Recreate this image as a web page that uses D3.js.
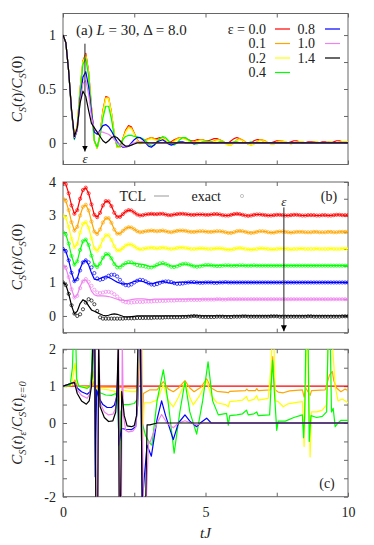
<!DOCTYPE html>
<html>
<head>
<meta charset="utf-8">
<script src="https://cdn.jsdelivr.net/npm/d3@7"></script>
<style>
  body { margin: 0; background: #fff; }
  svg text { fill: #222; }
</style>
</head>
<body>
<svg id="chart" width="374" height="545" font-family="Liberation Serif, serif"></svg>
<script>

// epsilon values, one series each
var eps = ["0.0", "0.1", "0.2", "0.4", "0.8", "1.0", "1.4"];
var colors = ["#ff0000", "#ffa500", "#ffff00", "#00ff00", "#0000ff", "#ee82ee", "#000000"];
var offsets = [3, 2.5, 2, 1.5, 1, 0.5, 0]; // shift used in panel (b)

// time grid t = 0, 0.1, ..., 10
var T = d3.range(101).map(function(i) { return i / 10; });

// TCL curves, C_S(t)/C_S(0)
var tcl00 = [
  1.00, 0.93, 0.66, 0.30, 0.05, 0.16, 0.50, 0.76, 0.83, 0.66, 0.33,
  0.02, -0.05, 0.08, 0.30, 0.43, 0.42, 0.28, 0.08, -0.04, -0.04,
  0.04, 0.12, 0.16, 0.15, 0.09, 0.03, 0.00, 0.01, 0.03, 0.04,
  0.05, 0.04, 0.04, 0.05, 0.05, 0.03, 0.01, 0.01, 0.03, 0.04,
  0.05, 0.05, 0.04, 0.03, 0.02, 0.02, 0.03, 0.03, 0.03, 0.02,
  0.02, 0.03, 0.04, 0.04, 0.03, 0.01, 0.00, 0.00, 0.02, 0.04,
  0.05, 0.04, 0.02, 0.00, -0.01, 0.00, 0.02, 0.03, 0.03, 0.02,
  0.01, 0.00, 0.00, 0.01, 0.02, 0.02, 0.01, 0.00, 0.00, 0.01,
  0.02, 0.02, 0.01, 0.00, 0.00, 0.01, 0.01, 0.01, 0.00, 0.00,
  0.01, 0.01, 0.00, 0.00, 0.01, 0.02, 0.02, 0.01, 0.01, 0.01
];
var tcl01 = [
  1.00, 0.93, 0.66, 0.30, 0.05, 0.16, 0.50, 0.76, 0.82, 0.65, 0.32,
  0.02, -0.05, 0.08, 0.29, 0.42, 0.42, 0.28, 0.08, -0.04, -0.04,
  0.04, 0.11, 0.15, 0.14, 0.09, 0.03, 0.00, 0.01, 0.03, 0.04,
  0.05, 0.04, 0.03, 0.04, 0.05, 0.03, 0.01, 0.00, 0.02, 0.04,
  0.05, 0.05, 0.04, 0.02, 0.01, 0.01, 0.02, 0.03, 0.03, 0.02,
  0.01, 0.01, 0.02, 0.03, 0.03, 0.02, 0.00, -0.02, -0.02, 0.00,
  0.03, 0.04, 0.03, 0.01, -0.01, -0.02, -0.01, 0.01, 0.03, 0.03,
  0.02, 0.00, -0.01, -0.01, 0.01, 0.02, 0.02, 0.01, 0.00, -0.01,
  0.00, 0.01, 0.01, 0.01, 0.00, 0.00, 0.00, 0.01, 0.01, 0.00,
  0.00, 0.00, 0.01, 0.01, 0.00, 0.00, 0.01, 0.01, 0.01, 0.01
];
var tcl02 = [
  1.00, 0.93, 0.66, 0.30, 0.05, 0.15, 0.49, 0.75, 0.80, 0.64, 0.31,
  0.02, -0.05, 0.07, 0.28, 0.41, 0.41, 0.27, 0.08, -0.04, -0.04,
  0.03, 0.10, 0.14, 0.13, 0.08, 0.02, -0.01, 0.00, 0.02, 0.03,
  0.04, 0.03, 0.02, 0.03, 0.04, 0.03, 0.01, 0.00, 0.01, 0.03,
  0.04, 0.04, 0.03, 0.02, 0.00, 0.00, 0.01, 0.02, 0.02, 0.01,
  0.00, 0.00, 0.01, 0.02, 0.02, 0.01, -0.01, -0.02, -0.02, 0.00,
  0.02, 0.03, 0.02, 0.00, -0.01, -0.02, -0.01, 0.00, 0.02, 0.02,
  0.01, 0.00, -0.01, -0.01, 0.00, 0.01, 0.01, 0.01, 0.00, -0.01,
  0.00, 0.00, 0.01, 0.01, 0.00, 0.00, 0.00, 0.00, 0.01, 0.00,
  0.00, 0.00, 0.00, 0.01, 0.00, 0.00, 0.00, 0.01, 0.01, 0.01
];
var tcl04 = [
  1.00, 0.93, 0.66, 0.29, 0.03, 0.13, 0.47, 0.73, 0.78, 0.62, 0.30,
  0.02, -0.04, 0.06, 0.23, 0.34, 0.34, 0.22, 0.06, -0.03, -0.03,
  0.03, 0.06, 0.07, 0.07, 0.06, 0.06, 0.05, 0.04, 0.02, -0.01,
  -0.03, -0.02, 0.01, 0.04, 0.06, 0.05, 0.02, -0.01, -0.02, 0.00,
  0.03, 0.05, 0.05, 0.03, 0.01, -0.01, -0.01, 0.00, 0.01, 0.01,
  0.01, 0.01, 0.00, 0.00, 0.01, 0.01, 0.00, 0.00, 0.00, 0.01,
  0.01, 0.00, 0.00, 0.00, 0.00, 0.01, 0.00, 0.00, 0.00, 0.00,
  0.00, 0.00, 0.00, 0.00, 0.00, 0.00, 0.00, 0.00, 0.00, 0.00,
  0.00, 0.00, 0.00, 0.00, 0.00, 0.00, 0.00, 0.00, 0.00, 0.00,
  0.00, 0.00, 0.00, 0.00, 0.00, 0.00, 0.00, 0.00, 0.00, 0.00
];
var tcl08 = [
  1.00, 0.93, 0.66, 0.29, 0.04, 0.12, 0.41, 0.61, 0.66, 0.52, 0.28,
  0.10, 0.08, 0.12, 0.16, 0.17, 0.15, 0.11, 0.06, 0.01, -0.02,
  -0.04, -0.04, -0.03, 0.00, 0.03, 0.05, 0.05, 0.03, 0.00, -0.03,
  -0.04, -0.02, 0.01, 0.02, 0.03, 0.01, -0.01, -0.02, -0.01, 0.00,
  0.01, 0.01, 0.00, 0.00, 0.00, -0.01, 0.00, 0.00, 0.00, 0.00,
  0.00, 0.00, 0.00, 0.00, 0.00, 0.00, 0.00, 0.00, 0.00, 0.00,
  0.00, 0.00, 0.00, 0.00, 0.00, 0.00, 0.00, 0.00, 0.00, 0.00,
  0.00, 0.00, 0.00, 0.00, 0.00, 0.00, 0.00, 0.00, 0.00, 0.00,
  0.00, 0.00, 0.00, 0.00, 0.00, 0.00, 0.00, 0.00, 0.00, 0.00,
  0.00, 0.00, 0.00, 0.00, 0.00, 0.00, 0.00, 0.00, 0.00, 0.00
];
var tcl10 = [
  1.00, 0.93, 0.66, 0.30, 0.05, 0.12, 0.38, 0.55, 0.58, 0.45, 0.24,
  0.13, 0.10, 0.10, 0.10, 0.09, 0.08, 0.06, 0.03, 0.00, -0.02,
  -0.03, -0.04, -0.03, -0.01, 0.00, 0.01, 0.01, 0.01, 0.00, -0.01,
  -0.01, 0.00, 0.00, 0.00, 0.00, 0.00, 0.00, 0.00, 0.00, 0.00,
  0.00, 0.00, 0.00, 0.00, 0.00, 0.00, 0.00, 0.00, 0.00, 0.00,
  0.00, 0.00, 0.00, 0.00, 0.00, 0.00, 0.00, 0.00, 0.00, 0.00,
  0.00, 0.00, 0.00, 0.00, 0.00, 0.00, 0.00, 0.00, 0.00, 0.00,
  0.00, 0.00, 0.00, 0.00, 0.00, 0.00, 0.00, 0.00, 0.00, 0.00,
  0.00, 0.00, 0.00, 0.00, 0.00, 0.00, 0.00, 0.00, 0.00, 0.00,
  0.00, 0.00, 0.00, 0.00, 0.00, 0.00, 0.00, 0.00, 0.00, 0.00
];
var tcl14 = [
  1.00, 0.93, 0.66, 0.31, 0.06, 0.14, 0.37, 0.48, 0.43, 0.30, 0.18,
  0.14, 0.10, 0.06, 0.02, 0.00, 0.02, 0.05, 0.06, 0.05, 0.02,
  -0.01, -0.03, -0.03, -0.02, -0.01, 0.00, 0.00, 0.00, 0.00, 0.00,
  0.00, 0.00, 0.00, 0.00, 0.00, 0.00, 0.00, 0.00, 0.00, 0.00,
  0.00, 0.00, 0.00, 0.00, 0.00, 0.00, 0.00, 0.00, 0.00, 0.00,
  0.00, 0.00, 0.00, 0.00, 0.00, 0.00, 0.00, 0.00, 0.00, 0.00,
  0.00, 0.00, 0.00, 0.00, 0.00, 0.00, 0.00, 0.00, 0.00, 0.00,
  0.00, 0.00, 0.00, 0.00, 0.00, 0.00, 0.00, 0.00, 0.00, 0.00,
  0.00, 0.00, 0.00, 0.00, 0.00, 0.00, 0.00, 0.00, 0.00, 0.00,
  0.00, 0.00, 0.00, 0.00, 0.00, 0.00, 0.00, 0.00, 0.00, 0.00
];

// exact curves (circles in panel b); for eps <= 0.2 they sit on the TCL curves
var exact04 = [
  1.00, 0.93, 0.66, 0.29, 0.03, 0.13, 0.47, 0.73, 0.78, 0.62, 0.30,
  0.02, -0.04, 0.06, 0.24, 0.35, 0.34, 0.22, 0.05, -0.05, -0.05,
  0.02, 0.08, 0.11, 0.10, 0.06, 0.02, 0.00, -0.01, -0.03, -0.05,
  -0.05, -0.02, 0.03, 0.07, 0.08, 0.05, 0.01, -0.03, -0.04, -0.02,
  0.02, 0.05, 0.06, 0.04, 0.01, -0.02, -0.03, -0.02, 0.00, 0.02,
  0.02, 0.01, 0.00, -0.01, -0.01, 0.00, 0.01, 0.01, 0.00, 0.00,
  0.00, 0.01, 0.01, 0.00, 0.00, 0.00, 0.01, 0.00, 0.00, 0.00,
  0.00, 0.00, 0.00, 0.00, 0.00, 0.00, 0.00, 0.00, 0.00, 0.00,
  0.00, 0.00, 0.00, 0.00, 0.00, 0.00, 0.00, 0.00, 0.00, 0.00,
  0.00, 0.00, 0.00, 0.00, 0.00, 0.00, 0.00, 0.00, 0.00, 0.00
];
var exact08 = [
  1.00, 0.93, 0.66, 0.29, 0.04, 0.10, 0.36, 0.60, 0.66, 0.60, 0.45,
  0.28, 0.12, 0.08, 0.10, 0.15, 0.20, 0.23, 0.23, 0.18, 0.08,
  -0.03, -0.08, -0.09, -0.06, 0.00, 0.05, 0.08, 0.07, 0.03, -0.02,
  -0.06, -0.07, -0.05, -0.01, 0.02, 0.03, 0.03, 0.01, -0.02, -0.04,
  -0.04, -0.03, -0.01, 0.00, 0.01, 0.01, 0.00, -0.01, -0.01, 0.00,
  0.00, 0.00, -0.01, -0.01, 0.00, 0.00, 0.01, 0.00, 0.00, 0.00,
  0.00, 0.00, 0.00, 0.00, 0.00, 0.00, 0.00, 0.00, 0.00, 0.00,
  0.00, 0.00, 0.00, 0.00, 0.00, 0.00, 0.00, 0.00, 0.00, 0.00,
  0.00, 0.00, 0.00, 0.00, 0.00, 0.00, 0.00, 0.00, 0.00, 0.00,
  0.00, 0.00, 0.00, 0.00, 0.00, 0.00, 0.00, 0.00, 0.00, 0.00
];
var exact10 = [
  1.00, 0.93, 0.66, 0.30, 0.05, 0.10, 0.33, 0.53, 0.60, 0.52, 0.40,
  0.28, 0.20, 0.18, 0.20, 0.22, 0.22, 0.20, 0.15, 0.08, 0.00,
  -0.06, -0.09, -0.10, -0.10, -0.09, -0.08, -0.08, -0.08, -0.07, -0.07,
  -0.07, -0.06, -0.06, -0.05, -0.05, -0.05, -0.04, -0.04, -0.04, -0.03,
  -0.03, -0.03, -0.03, -0.02, -0.02, -0.02, -0.02, -0.02, -0.01, -0.01,
  -0.01, -0.01, -0.01, 0.00, 0.00, -0.01, -0.01, 0.00, 0.00, 0.00,
  0.00, 0.00, 0.00, 0.00, 0.00, 0.00, 0.00, 0.00, 0.00, 0.00,
  0.00, 0.00, 0.00, 0.00, 0.00, 0.00, 0.00, 0.00, 0.00, 0.00,
  0.00, 0.00, 0.00, 0.00, 0.00, 0.00, 0.00, 0.00, 0.00, 0.00,
  0.00, 0.00, 0.00, 0.00, 0.00, 0.00, 0.00, 0.00, 0.00, 0.00
];
var exact14 = [
  1.00, 0.92, 0.66, 0.32, 0.07, 0.00, 0.05, 0.20, 0.40, 0.50, 0.46,
  0.35, 0.15, -0.04, -0.08, -0.08, -0.08, -0.08, -0.08, -0.08, -0.08,
  -0.08, -0.07, -0.07, -0.07, -0.07, -0.06, -0.06, -0.06, -0.06, -0.06,
  -0.06, -0.05, -0.05, -0.05, -0.05, -0.04, -0.04, -0.04, -0.04, -0.04,
  -0.04, -0.03, -0.03, -0.02, -0.01, 0.00, -0.01, -0.02, -0.03, -0.03,
  -0.03, -0.03, -0.03, -0.02, -0.02, -0.02, -0.03, -0.03, -0.03, -0.02,
  -0.02, -0.02, -0.01, -0.01, -0.02, -0.02, -0.02, -0.02, -0.02, -0.02,
  -0.02, -0.02, -0.01, -0.01, -0.01, -0.02, -0.02, -0.02, -0.02, -0.02,
  -0.02, -0.02, -0.02, -0.02, -0.02, -0.01, -0.01, -0.02, -0.02, -0.02,
  -0.02, -0.02, -0.02, -0.02, -0.02, -0.02, -0.02, -0.01, -0.01, -0.01
];

// ratio C_S(t)_eps / C_S(t)_eps=0, as [t, value]
var ratio00 = [[0, 1], [10, 1]];
var ratio01 = [[0, 1], [0.3, 1.02], [0.42, 1.17], [0.5, 1.0], [0.9, 0.98], [1.02, 1.0], [1.07, 1.12],
  [1.12, 0.95], [1.2, 0.98], [1.85, 0.97], [1.93, 0.92], [2.0, 0.97], [2.3, 0.95], [2.55, 0.95],
  [2.66, 1.05], [2.71, 2.2], [2.76, 2.2], [2.77, -1.4], [2.82, 0.8], [3.05, 0.9], [3.3, 0.9],
  [3.52, 1.12], [3.7, 0.92], [3.87, 0.85], [4.05, 0.95], [4.28, 1.15], [4.45, 0.95], [4.6, 0.85],
  [4.85, 0.98], [5.04, 1.2], [5.2, 0.95], [5.4, 0.86], [5.75, 0.83], [5.8, 0.82], [5.85, 0.86],
  [6.4, 0.88], [6.45, 0.92], [6.5, 0.88], [6.75, 0.88], [6.8, 0.93], [6.85, 0.88], [7.28, 0.9],
  [7.36, 1.8], [7.44, 0.9], [7.55, 0.84], [7.73, 0.82], [7.95, 0.87], [8.4, 0.9], [8.46, 0.7],
  [8.52, 0.95], [8.67, 0.75], [8.72, 0.88], [9.2, 0.9], [9.35, 1.3], [9.45, 1.4], [9.5, 1.15],
  [9.6, 0.95], [9.75, 0.85], [9.9, 0.92], [10, 0.88]];
var ratio02 = [[0, 1], [0.3, 1.02], [0.36, 1.3], [0.42, 1.62], [0.48, 1.15], [0.55, 1.0], [0.9, 0.96],
  [1.0, 1.05], [1.07, 1.4], [1.12, 0.9], [1.2, 0.95], [1.3, 0.93], [1.6, 0.9], [1.85, 0.85],
  [1.95, 0.5], [2.05, 0.9], [2.2, 0.88], [2.4, 0.85], [2.55, 0.85], [2.65, 1.0], [2.7, 2.2],
  [2.76, 2.2], [2.78, -0.6], [2.85, 0.55], [3.05, 0.55], [3.3, 0.62], [3.52, 1.03], [3.7, 0.6],
  [3.87, 0.44], [4.05, 0.7], [4.28, 1.1], [4.45, 0.7], [4.57, 0.49], [4.8, 0.75], [5.04, 1.15],
  [5.2, 0.75], [5.4, 0.55], [5.7, 0.5], [5.8, 0.44], [5.85, 0.58], [6.1, 0.6], [6.3, 0.62],
  [6.44, 0.72], [6.5, 0.6], [6.7, 0.64], [6.8, 0.74], [6.85, 0.62], [7.2, 0.67], [7.3, 1.5],
  [7.33, 2.2], [7.4, 2.2], [7.45, 0.6], [7.55, 0.58], [7.73, 0.44], [7.9, 0.52], [8.2, 0.56],
  [8.4, 0.58], [8.46, -0.64], [8.5, 0.5], [8.55, 2.2], [8.6, 2.2], [8.67, -0.92], [8.72, 0.3],
  [8.9, 0.3], [9.1, 0.35], [9.25, 0.5], [9.3, 2.2], [9.45, 2.2], [9.55, 1.0], [9.65, 0.6],
  [9.8, 0.65], [10, 0.55]];
var ratio04 = [[0, 1], [0.25, 1.02], [0.33, 1.5], [0.36, 2.2], [0.45, 2.2], [0.48, 1.2], [0.55, 1.0],
  [0.85, 0.94], [0.95, 1.0], [1.0, 1.4], [1.03, 2.2], [1.07, 2.2], [1.12, 0.3], [1.2, 0.85],
  [1.3, 0.82], [1.5, 0.76], [1.7, 0.75], [1.85, 0.8], [1.92, 0.6], [1.98, -1.0], [2.03, 0.3],
  [2.1, 0.5], [2.3, 0.5], [2.5, 0.53], [2.62, 0.65], [2.68, 2.2], [2.73, 2.2], [2.78, 0.0],
  [2.9, -0.35], [3.05, -0.55], [3.12, -0.6], [3.3, 0.6], [3.52, 1.44], [3.7, 0.5], [3.9, -0.82],
  [4.1, 0.3], [4.28, 1.12], [4.45, 0.3], [4.69, -0.3], [4.9, 0.6], [5.09, 1.66], [5.25, 0.6],
  [5.45, 0.22], [5.74, 0.26], [5.8, -0.06], [5.85, 0.2], [6.1, 0.22], [6.3, 0.25], [6.44, 0.35],
  [6.5, 0.22], [6.7, 0.25], [6.8, 0.3], [6.85, 0.2], [7.25, 0.22], [7.35, 1.7], [7.42, 0.8],
  [7.5, -0.2], [7.55, 0.05], [7.8, 0.05], [8.1, 0.15], [8.4, 0.22], [8.44, -0.4], [8.48, 0.2],
  [8.52, 2.2], [8.6, 2.2], [8.64, -0.5], [8.7, 0.2], [8.9, 0.15], [9.1, 0.18], [9.25, 0.3],
  [9.3, 2.2], [9.38, 2.2], [9.42, 0.3], [9.48, 0.4], [9.55, -0.1], [9.65, 0.0], [9.75, 0.07],
  [10, 0.07]];
var ratio08 = [[0, 1], [0.3, 1.08], [0.4, 1.1], [0.5, 0.95], [0.65, 0.85], [0.85, 0.78], [0.95, 0.85],
  [1.02, 1.3], [1.06, 2.2], [1.1, 2.2], [1.13, -1.46], [1.18, 0.9], [1.25, 0.7], [1.4, 0.5],
  [1.55, 0.42], [1.7, 0.42], [1.8, 0.48], [1.88, 0.7], [1.92, 1.2], [1.96, -0.6], [2.05, -0.15],
  [2.2, -0.17], [2.4, -0.18], [2.55, -0.1], [2.62, 0.5], [2.67, 2.2], [2.72, 2.2], [2.78, -2.2],
  [2.85, -1.5], [2.95, -0.6], [3.1, -0.9], [3.3, 0.1], [3.46, 0.6], [3.6, 0.2], [3.87, -0.45],
  [4.05, 0.0], [4.28, 0.22], [4.45, 0.05], [4.69, -0.1], [4.85, 0.02], [5.04, 0.13], [5.2, 0.0],
  [10, 0.0]];
var ratio10 = [[0, 1], [0.3, 1.08], [0.4, 1.12], [0.5, 0.9], [0.65, 0.75], [0.85, 0.67], [0.95, 0.8],
  [1.02, 1.4], [1.06, 2.2], [1.12, 2.2], [1.16, -2.2], [1.22, -2.2], [1.26, 2.2], [1.3, 0.55],
  [1.45, 0.3], [1.6, 0.22], [1.75, 0.24], [1.85, 0.4], [1.9, 1.0], [1.95, 2.2], [1.98, -2.2],
  [2.05, -2.2], [2.08, 2.2], [2.12, 0.2], [2.2, -0.2], [2.3, -0.24], [2.45, -0.22], [2.55, -0.12],
  [2.62, 0.6], [2.66, 2.2], [2.75, 2.2], [2.82, -2.2], [2.92, -2.2], [3.0, -0.5], [3.05, -0.53],
  [3.3, 0.0], [3.46, 0.23], [3.65, 0.0], [3.87, -0.13], [4.05, 0.0], [4.28, 0.06], [4.5, 0.0],
  [4.69, -0.05], [4.9, 0.0], [10, 0.0]];
var ratio14 = [[0, 1], [0.3, 1.08], [0.4, 1.1], [0.5, 0.8], [0.65, 0.6], [0.82, 0.51], [0.92, 0.6],
  [1.0, 1.0], [1.05, 2.2], [1.12, 2.2], [1.15, -2.2], [1.22, -2.2], [1.25, 2.2], [1.3, 0.45],
  [1.45, 0.15], [1.6, 0.04], [1.75, 0.06], [1.85, 0.3], [1.9, 1.0], [1.94, 2.2], [1.97, -2.2],
  [2.02, -2.2], [2.06, 0.85], [2.15, 0.2], [2.25, -0.08], [2.4, -0.1], [2.5, -0.07], [2.58, 0.2],
  [2.63, 2.2], [2.72, 2.2], [2.78, -2.2], [2.9, -2.2], [2.95, -0.05], [3.05, -0.05], [3.3, 0.0],
  [10, 0.0]];

var tcl = [tcl00, tcl01, tcl02, tcl04, tcl08, tcl10, tcl14];
var exact = [tcl00, tcl01, tcl02, exact04, exact08, exact10, exact14];
var ratio = [ratio00, ratio01, ratio02, ratio04, ratio08, ratio10, ratio14];

var xTicks = [0, 2.5, 5, 7.5, 10];
var FONT = "Liberation Serif, serif";

var svg = d3.select("#chart");
var x = d3.scaleLinear().domain([0, 10]).range([63, 348]);
var yA = d3.scaleLinear().domain([-0.2, 1.2]).range([164.5, 13.5]);
var yB = d3.scaleLinear().domain([-0.5, 4]).range([332.7, 182]);
var yC = d3.scaleLinear().domain([-2, 2]).range([496.7, 349.3]);

function panel(id, y, yTicks, yFmt, xFmt) {
  var top = y.range()[1], bottom = y.range()[0];
  svg.append("clipPath").attr("id", id)
    .append("rect").attr("x", 63).attr("y", top).attr("width", 285).attr("height", bottom - top);

  var ax = svg.append("g").attr("class", "axes");
  ax.append("g").attr("transform", "translate(63,0)")
    .call(d3.axisLeft(y).tickValues(yTicks).tickSize(-4).tickPadding(7).tickFormat(yFmt));
  ax.append("g").attr("transform", "translate(348,0)")
    .call(d3.axisRight(y).tickValues(yTicks).tickSize(-4).tickFormat(""));
  ax.append("g").attr("transform", "translate(0," + bottom + ")")
    .call(d3.axisBottom(x).tickValues(xTicks).tickSize(-4).tickPadding(10).tickFormat(xFmt));
  ax.append("g").attr("transform", "translate(0," + top + ")")
    .call(d3.axisTop(x).tickValues(xTicks).tickSize(-4).tickFormat(""));
  ax.selectAll("g").attr("font-family", FONT).attr("font-size", 14);
  ax.selectAll(".domain").remove();
  ax.selectAll(".tick line").attr("stroke", "#666");
  ax.selectAll(".tick text").attr("fill", "#222");

  svg.append("rect").attr("x", 63).attr("y", top).attr("width", 285).attr("height", bottom - top)
    .attr("fill", "none").attr("stroke", "#666").attr("stroke-width", 1);

  return svg.append("g").attr("clip-path", "url(#" + id + ")");
}

function noLabel() { return ""; }

// ---- panel (a)
var gA = panel("clipA", yA, [0, 0.25, 0.5, 0.75, 1],
  function(v) { return v === 0 ? "0" : v === 0.5 ? "0.5" : v === 1 ? "1" : ""; }, noLabel);

var lineA = d3.line().x(function(d, i) { return x(T[i]); }).y(function(d) { return yA(d); });
tcl.forEach(function(s, k) {
  gA.append("path").datum(s).attr("d", lineA)
    .attr("fill", "none").attr("stroke", colors[k]).attr("stroke-width", 1.2)
    .attr("stroke-linejoin", "round");
});

// legend (a)
var legA = svg.append("g").attr("font-family", FONT).attr("font-size", 14);
eps.forEach(function(e, k) {
  var col = k < 4 ? 0 : 1, row = k < 4 ? k : k - 4;
  var tx = col === 0 ? 266 : 315, lx = col === 0 ? 275 : 325;
  var yy = 29 + row * 14.5;
  legA.append("text").attr("x", tx).attr("y", yy).attr("dy", "0.35em")
    .attr("text-anchor", "end").text(k === 0 ? "\u03b5 = " + e : e);
  legA.append("line").attr("x1", lx).attr("x2", lx + 15).attr("y1", yy).attr("y2", yy)
    .attr("stroke", colors[k]).attr("stroke-width", 1.2);
});

var titleA = svg.append("text").attr("x", 76).attr("y", 30).attr("dy", "0.35em")
  .attr("font-family", FONT).attr("font-size", 15);
titleA.append("tspan").text("(a) ");
titleA.append("tspan").attr("font-style", "italic").text("L");
titleA.append("tspan").text(" = 30, \u0394 = 8.0");

// arrow helper
svg.append("defs").append("marker").attr("id", "head")
  .attr("viewBox", "0 0 10 10").attr("refX", 10).attr("refY", 5)
  .attr("markerWidth", 6).attr("markerHeight", 9).attr("markerUnits", "userSpaceOnUse")
  .attr("orient", "auto")
  .append("path").attr("d", "M0,0 L10,5 L0,10 Z").attr("fill", "#000");

function arrow(t, y, from, to) {
  svg.append("line").attr("x1", x(t)).attr("x2", x(t)).attr("y1", y(from)).attr("y2", y(to))
    .attr("stroke", "#222").attr("stroke-width", 1).attr("marker-end", "url(#head)");
}
function epsLabel(t, y, v) {
  svg.append("text").attr("x", x(t)).attr("y", y(v)).attr("dy", "0.35em")
    .attr("text-anchor", "middle").attr("font-family", FONT).attr("font-size", 13)
    .attr("font-style", "italic").text("\u03b5");
}
arrow(0.77, yA, 0.92, -0.08);
epsLabel(0.77, yA, -0.14);

// ---- panel (b)
var gB = panel("clipB", yB, d3.range(-0.5, 4.01, 0.5),
  function(v) { return Number.isInteger(v) ? String(v) : ""; }, noLabel);

tcl.forEach(function(s, k) {
  var lineB = d3.line().x(function(d, i) { return x(T[i]); })
    .y(function(d) { return yB(d + offsets[k]); });
  gB.append("path").datum(s).attr("d", lineB)
    .attr("fill", "none").attr("stroke", colors[k]).attr("stroke-width", 1.2);
});
exact.forEach(function(s, k) {
  gB.append("g").selectAll("circle").data(s).enter().append("circle")
    .attr("cx", function(d, i) { return x(T[i]); })
    .attr("cy", function(d) { return yB(d + offsets[k]); })
    .attr("r", 1.6).attr("fill", "none").attr("stroke", colors[k]).attr("stroke-width", 0.7);
});

var legB = svg.append("g").attr("font-family", FONT).attr("font-size", 14);
legB.append("text").attr("x", 146).attr("y", 196).attr("dy", "0.35em").attr("text-anchor", "end").text("TCL");
legB.append("line").attr("x1", 154).attr("x2", 169).attr("y1", 196).attr("y2", 196)
  .attr("stroke", "#aaa").attr("stroke-width", 1.2);
legB.append("text").attr("x", 221).attr("y", 196).attr("dy", "0.35em").attr("text-anchor", "end").text("exact");
legB.append("circle").attr("cx", 242).attr("cy", 196).attr("r", 1.6)
  .attr("fill", "none").attr("stroke", "#aaa").attr("stroke-width", 0.7);
legB.append("text").attr("x", 329).attr("y", 196).attr("dy", "0.35em").attr("text-anchor", "middle").text("(b)");

arrow(7.75, yB, 3.24, -0.46);
epsLabel(7.75, yB, 3.43);

// ---- panel (c)
var gC = panel("clipC", yC, d3.range(-2, 2.01, 0.5),
  function(v) { return Number.isInteger(v) ? String(v) : ""; },
  function(v) { return Number.isInteger(v) ? String(v) : ""; });

var lineC = d3.line().x(function(d) { return x(d[0]); }).y(function(d) { return yC(d[1]); });
ratio.forEach(function(s, k) {
  gC.append("path").datum(s).attr("d", lineC)
    .attr("fill", "none").attr("stroke", colors[k]).attr("stroke-width", 1.2)
    .attr("stroke-linejoin", "round");
});
svg.append("text").attr("x", 327).attr("y", 483).attr("dy", "0.35em").attr("text-anchor", "middle")
  .attr("font-family", FONT).attr("font-size", 14).text("(c)");

// ---- axis titles
function mathLabel(cx, cy, parts) {
  var t = svg.append("text").attr("transform", "translate(" + cx + "," + cy + ") rotate(-90)")
    .attr("text-anchor", "middle").attr("font-family", FONT).attr("font-size", 15);
  var shift = 0;
  parts.forEach(function(p) {
    var target = p.sub ? 3.5 : 0;
    var sp = t.append("tspan").text(p.s).attr("dy", target - shift);
    if (p.it) sp.attr("font-style", "italic");
    if (p.sub) sp.attr("font-size", 10.5);
    shift = target;
  });
  return t;
}
var csPart = [{ s: "C", it: true }, { s: "S", it: true, sub: true }, { s: "(" }, { s: "t", it: true }, { s: ")" }];
mathLabel(22, 89, csPart.concat([{ s: "/" }, { s: "C", it: true }, { s: "S", it: true, sub: true }, { s: "(0)" }]));
mathLabel(22, 257, csPart.concat([{ s: "/" }, { s: "C", it: true }, { s: "S", it: true, sub: true }, { s: "(0)" }]));
mathLabel(22, 423, csPart.concat([{ s: "\u03b5", it: true, sub: true }, { s: "/" }])
  .concat(csPart).concat([{ s: "\u03b5=0", it: true, sub: true }]));

svg.append("text").attr("x", 205.5).attr("y", 533).attr("dy", "0.35em")
  .attr("text-anchor", "middle").attr("font-family", FONT).attr("font-size", 15)
  .attr("font-style", "italic").text("tJ");

</script>
</body>
</html>
